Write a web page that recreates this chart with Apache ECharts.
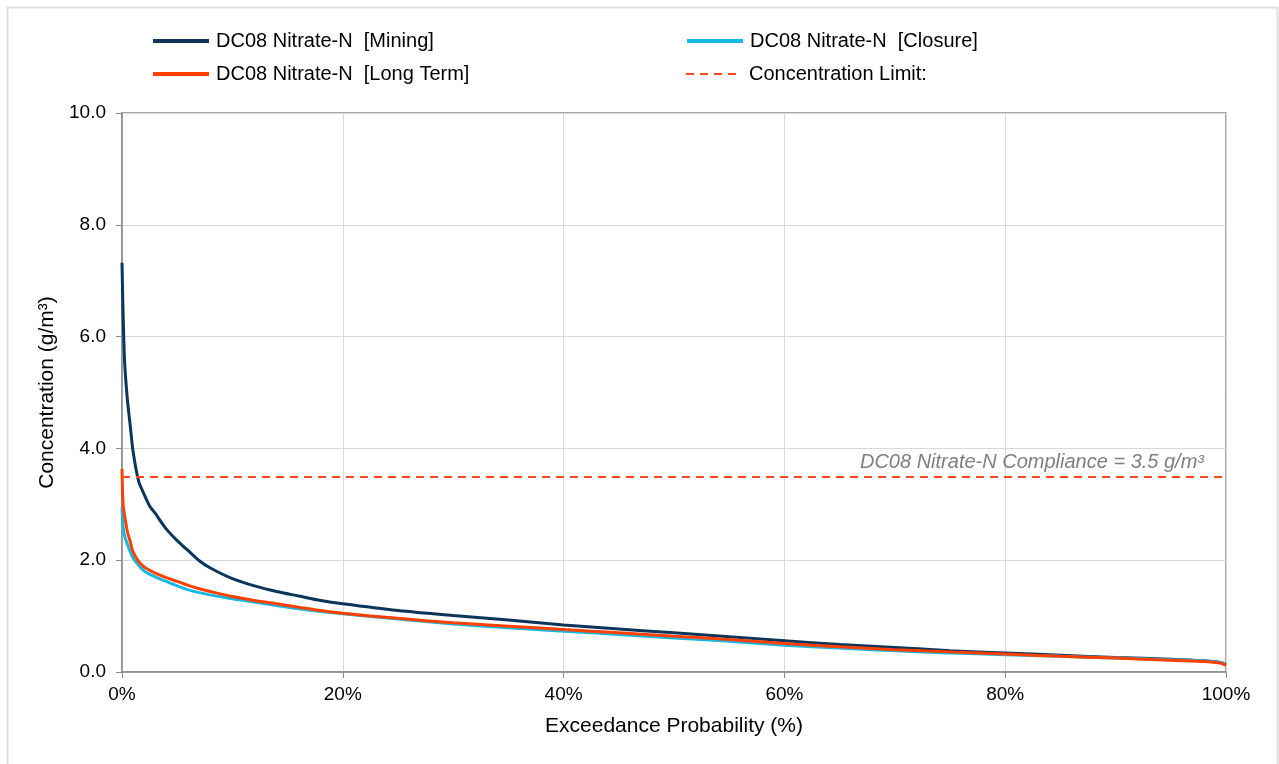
<!DOCTYPE html>
<html>
<head>
<meta charset="utf-8">
<script src="https://cdn.jsdelivr.net/npm/echarts@6/dist/echarts.min.js"></script>
<style>
html,body{margin:0;padding:0;background:#fff;}
#chart{width:1279px;height:764px;}
</style>
</head>
<body>
<div id="chart"></div>
<script>
// Exceedance probability (%)
const exceedance = [0, 0.1, 0.25, 0.5, 0.75, 1, 1.5, 2, 2.5, 3, 4, 5, 6, 7, 8, 10, 12, 14, 16, 18, 20, 25, 30, 35, 40, 45, 50, 55, 60, 65, 70, 75, 80, 85, 90, 95, 98, 99.5, 100];
// Concentration (g/m3)
const mining   = [7.32, 6.4, 5.5, 4.85, 4.4, 3.95, 3.42, 3.18, 2.97, 2.84, 2.56, 2.35, 2.17, 1.99, 1.86, 1.67, 1.54, 1.44, 1.36, 1.28, 1.22, 1.10, 1.01, 0.93, 0.84, 0.77, 0.70, 0.63, 0.56, 0.49, 0.44, 0.38, 0.34, 0.30, 0.26, 0.23, 0.20, 0.17, 0.13];
const closure  = [2.95, 2.6, 2.42, 2.28, 2.15, 2.04, 1.91, 1.81, 1.75, 1.70, 1.62, 1.54, 1.47, 1.42, 1.38, 1.31, 1.25, 1.19, 1.13, 1.08, 1.04, 0.95, 0.86, 0.79, 0.73, 0.67, 0.61, 0.55, 0.48, 0.43, 0.38, 0.34, 0.31, 0.28, 0.25, 0.22, 0.20, 0.17, 0.14];
const longTerm = [3.63, 3.0, 2.78, 2.5, 2.33, 2.15, 1.98, 1.88, 1.82, 1.77, 1.69, 1.62, 1.55, 1.49, 1.44, 1.35, 1.28, 1.22, 1.16, 1.10, 1.05, 0.96, 0.88, 0.82, 0.76, 0.70, 0.64, 0.58, 0.51, 0.45, 0.40, 0.36, 0.32, 0.28, 0.25, 0.21, 0.19, 0.16, 0.12];
const limitValue = 3.5;
const seriesNames = ['DC08 Nitrate-N  [Mining]', 'DC08 Nitrate-N  [Closure]', 'DC08 Nitrate-N  [Long Term]', 'Concentration Limit:'];
const limitLabel = 'DC08 Nitrate-N Compliance = 3.5 g/m\u00B3';

const pairs = arr => exceedance.map((x, i) => [x, arr[i]]);
const FONT = '"Liberation Sans", Arial, sans-serif';

const legendBase = {
  orient: 'horizontal', itemWidth: 56, itemHeight: 14,
  textStyle: { fontFamily: FONT, fontSize: 20, color: '#000', padding: [0, 0, 0, 2] },
  itemStyle: { opacity: 0 },
  lineStyle: { width: 4 },
  selectedMode: false
};

const chart = echarts.init(document.getElementById('chart'));
chart.setOption({
  backgroundColor: '#fff',
  animation: false,
  graphic: [{
    type: 'rect', left: 5, top: 5, shape: { width: 1270, height: 790 },
    style: { fill: 'none', stroke: '#e0e0e0', lineWidth: 2 }, silent: true
  }],
  legend: [
    Object.assign({}, legendBase, { data: [seriesNames[0]], left: 146, top: 26 }),
    Object.assign({}, legendBase, { data: [seriesNames[1]], left: 680, top: 26 }),
    Object.assign({}, legendBase, { data: [seriesNames[2]], left: 146, top: 59 }),
    Object.assign({}, legendBase, { data: [seriesNames[3]], left: 680, top: 59, lineStyle: { width: 2 } })
  ],
  grid: { left: 122, right: 53, top: 113, bottom: 92, show: true, borderColor: '#8c8c8c', borderWidth: 1.5 },
  xAxis: {
    type: 'value', min: 0, max: 100, interval: 20,
    name: 'Exceedance Probability (%)', nameLocation: 'middle', nameGap: 44,
    nameTextStyle: { fontFamily: FONT, fontSize: 21, color: '#000' },
    axisLine: { show: true, lineStyle: { color: '#8c8c8c', width: 1.5 } },
    axisTick: { show: true, length: 6, lineStyle: { color: '#8c8c8c' } },
    axisLabel: { formatter: v => v + '%', fontFamily: FONT, fontSize: 19, color: '#000', margin: 13 },
    splitLine: { show: true, lineStyle: { color: '#d9d9d9', width: 1 } }
  },
  yAxis: {
    type: 'value', min: 0, max: 10, interval: 2,
    name: 'Concentration (g/m\u00B3)', nameLocation: 'middle', nameGap: 64,
    nameTextStyle: { fontFamily: FONT, fontSize: 21, color: '#000' },
    axisLine: { show: true, lineStyle: { color: '#8c8c8c', width: 1.5 } },
    axisTick: { show: true, length: 6, lineStyle: { color: '#8c8c8c' } },
    axisLabel: { formatter: v => v.toFixed(1), fontFamily: FONT, fontSize: 19, color: '#000', margin: 16 },
    splitLine: { show: true, lineStyle: { color: '#d9d9d9', width: 1 } }
  },
  series: [
    { name: seriesNames[0], type: 'line', symbol: 'none', smooth: 0.3, data: pairs(mining),
      lineStyle: { color: '#0c355c', width: 3 }, itemStyle: { color: '#0c355c' } },
    { name: seriesNames[1], type: 'line', symbol: 'none', smooth: 0.3, data: pairs(closure),
      lineStyle: { color: '#16b9e2', width: 3 }, itemStyle: { color: '#16b9e2' } },
    { name: seriesNames[2], type: 'line', symbol: 'none', smooth: 0.3, data: pairs(longTerm),
      lineStyle: { color: '#ff4000', width: 3 }, itemStyle: { color: '#ff4000' } },
    { name: seriesNames[3], type: 'line', symbol: 'none', data: [],
      lineStyle: { color: '#ff4a1a', width: 2, type: [8, 6] }, itemStyle: { color: '#ff4a1a' },
      markLine: {
        silent: true, symbol: 'none',
        lineStyle: { color: '#ff4a1a', width: 2, type: [8, 6] },
        label: { show: true, position: 'insideEndTop', formatter: limitLabel, distance: [22, 4],
          fontFamily: FONT, fontSize: 20, fontStyle: 'italic', color: '#7f7f7f' },
        data: [{ yAxis: limitValue }]
      }
    }
  ]
});
</script>
</body>
</html>
